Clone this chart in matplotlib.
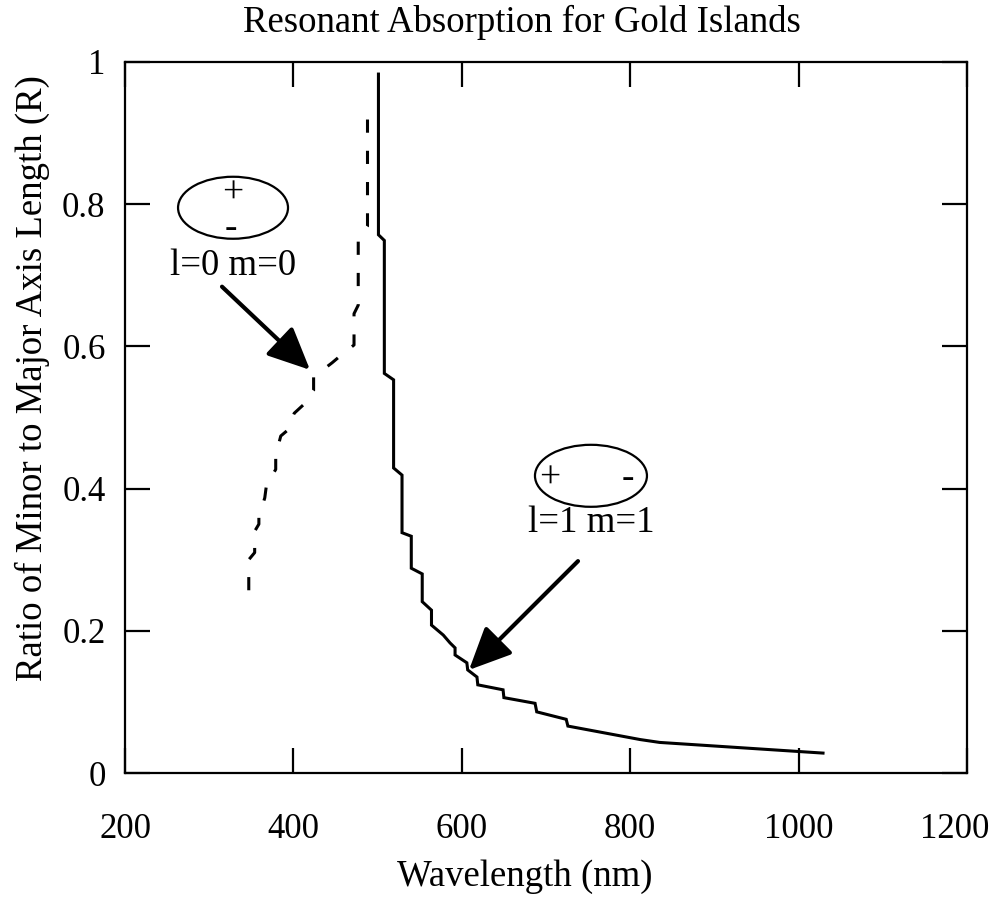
import matplotlib
matplotlib.use("Agg")
import matplotlib.pyplot as plt
from matplotlib.patches import Ellipse
from matplotlib.transforms import ScaledTranslation

plt.rcParams['font.family'] = ['Liberation Serif', 'DejaVu Serif']
plt.rcParams['lines.scale_dashes'] = False

# ---- data (wavelength in nm, R = minor/major axis ratio) ----
mode11_wavelength = [501, 501, 508, 508, 519, 519, 529, 529, 540, 540, 553, 553,
                     564, 564, 578, 586, 592, 592, 606, 607, 618, 619, 649, 650,
                     687, 689, 724, 726, 812, 835, 1029]
mode11_ratio = [0.983, 0.757, 0.749, 0.562, 0.553, 0.429, 0.419, 0.338, 0.333, 0.288,
                0.280, 0.241, 0.229, 0.208, 0.194, 0.183, 0.176, 0.166, 0.155, 0.145,
                0.135, 0.124, 0.117, 0.106, 0.098, 0.086, 0.0755, 0.066, 0.047, 0.043,
                0.028]

mode00_wavelength = [347, 347, 354, 354, 359, 359, 366, 368, 379, 379, 385, 392,
                     401, 412, 424, 424, 446, 453, 472, 472, 477, 477, 488, 488]
mode00_ratio = [0.257, 0.300, 0.310, 0.340, 0.350, 0.360, 0.387, 0.405, 0.427, 0.447,
                0.474, 0.481, 0.506, 0.518, 0.538, 0.557, 0.577, 0.584, 0.602, 0.646,
                0.658, 0.750, 0.769, 0.924]

x_ticks = [200, 400, 600, 800, 1000, 1200]
x_tick_labels = ['200', '400', '600', '800', '1000', '1200']
y_ticks = [0, 0.2, 0.4, 0.6, 0.8, 1.0]
y_tick_labels = ['0', '0.2', '0.4', '0.6', '0.8', '1']

title = 'Resonant Absorption for Gold Islands'
xlabel = 'Wavelength (nm)'
ylabel = 'Ratio of Minor to Major Axis Length (R)'
label00 = 'l=0 m=0'
label11 = 'l=1 m=1'

# ---- figure ----
W, H = 999, 902
fig = plt.figure(figsize=(W / 100, H / 100), dpi=100)
ax = fig.add_axes([125 / W, 1 - 773 / H, (967 - 125) / W, (773 - 62) / H])

ax.plot(mode11_wavelength, mode11_ratio, color='black', lw=2.2, solid_joinstyle='miter')
ax.plot(mode00_wavelength, mode00_ratio, color='black', lw=2.2,
        linestyle=(0, (9.5, 13)))

ax.set_xlim(200, 1200)
ax.set_ylim(0, 1)
ax.set_xticks(x_ticks)
ax.set_xticklabels(x_tick_labels)
ax.set_yticks(y_ticks)
ax.set_yticklabels(y_tick_labels)
ax.tick_params(direction='in', length=18, width=1.6, top=True, right=True,
               labelsize=25)
ax.tick_params(axis='x', pad=29)
ax.tick_params(axis='y', pad=14)
for s in ax.spines.values():
    s.set_linewidth(1.6)

# keep the last x tick label inside the figure (as in the reference)
last = ax.xaxis.get_major_ticks()[-1].label1
last.set_transform(last.get_transform() + ScaledTranslation(-9 / 72, 0, fig.dpi_scale_trans))


def px2wl(px):
    return 200 + (px - 125) / 0.842


# ellipses and annotations
ax.add_patch(Ellipse((328.3, 0.795), 130.6, 0.0872, fill=False, lw=1.6, color='black'))
ax.text(328.3, 0.815, '+', ha='center', va='center', fontsize=27)
ax.text(325.5, 0.766, '-', ha='center', va='center', fontsize=27)
ax.text(328.3, 0.713, label00, ha='center', va='center', fontsize=26.5)

ax.add_patch(Ellipse((753.4, 0.418), 133, 0.0872, fill=False, lw=1.6, color='black'))
ax.text(px2wl(550), 0.414, '+', ha='center', va='center', fontsize=27)
ax.text(px2wl(628), 0.414, '-', ha='center', va='center', fontsize=27)
ax.text(753.4, 0.352, label11, ha='center', va='center', fontsize=26.5)

arrow = dict(arrowstyle='-|>,head_length=1.3,head_width=0.6', mutation_scale=20,
             lw=3, color='black', shrinkA=0, shrinkB=0)
ax.annotate('', xy=(419.7, 0.567), xytext=(315.2, 0.684), arrowprops=arrow)
ax.annotate('', xy=(608.6, 0.145), xytext=(738.0, 0.298), arrowprops=arrow)

fig.text(522 / W, 1 - 22 / H, title, ha='center', va='center', fontsize=26.5)
fig.text(525 / W, 1 - 877 / H, xlabel, ha='center', va='center', fontsize=26.5)
fig.text(32 / W, 1 - 378 / H, ylabel, ha='center', va='center', rotation=90, fontsize=26.5)

fig.savefig('out.png', dpi=100)
